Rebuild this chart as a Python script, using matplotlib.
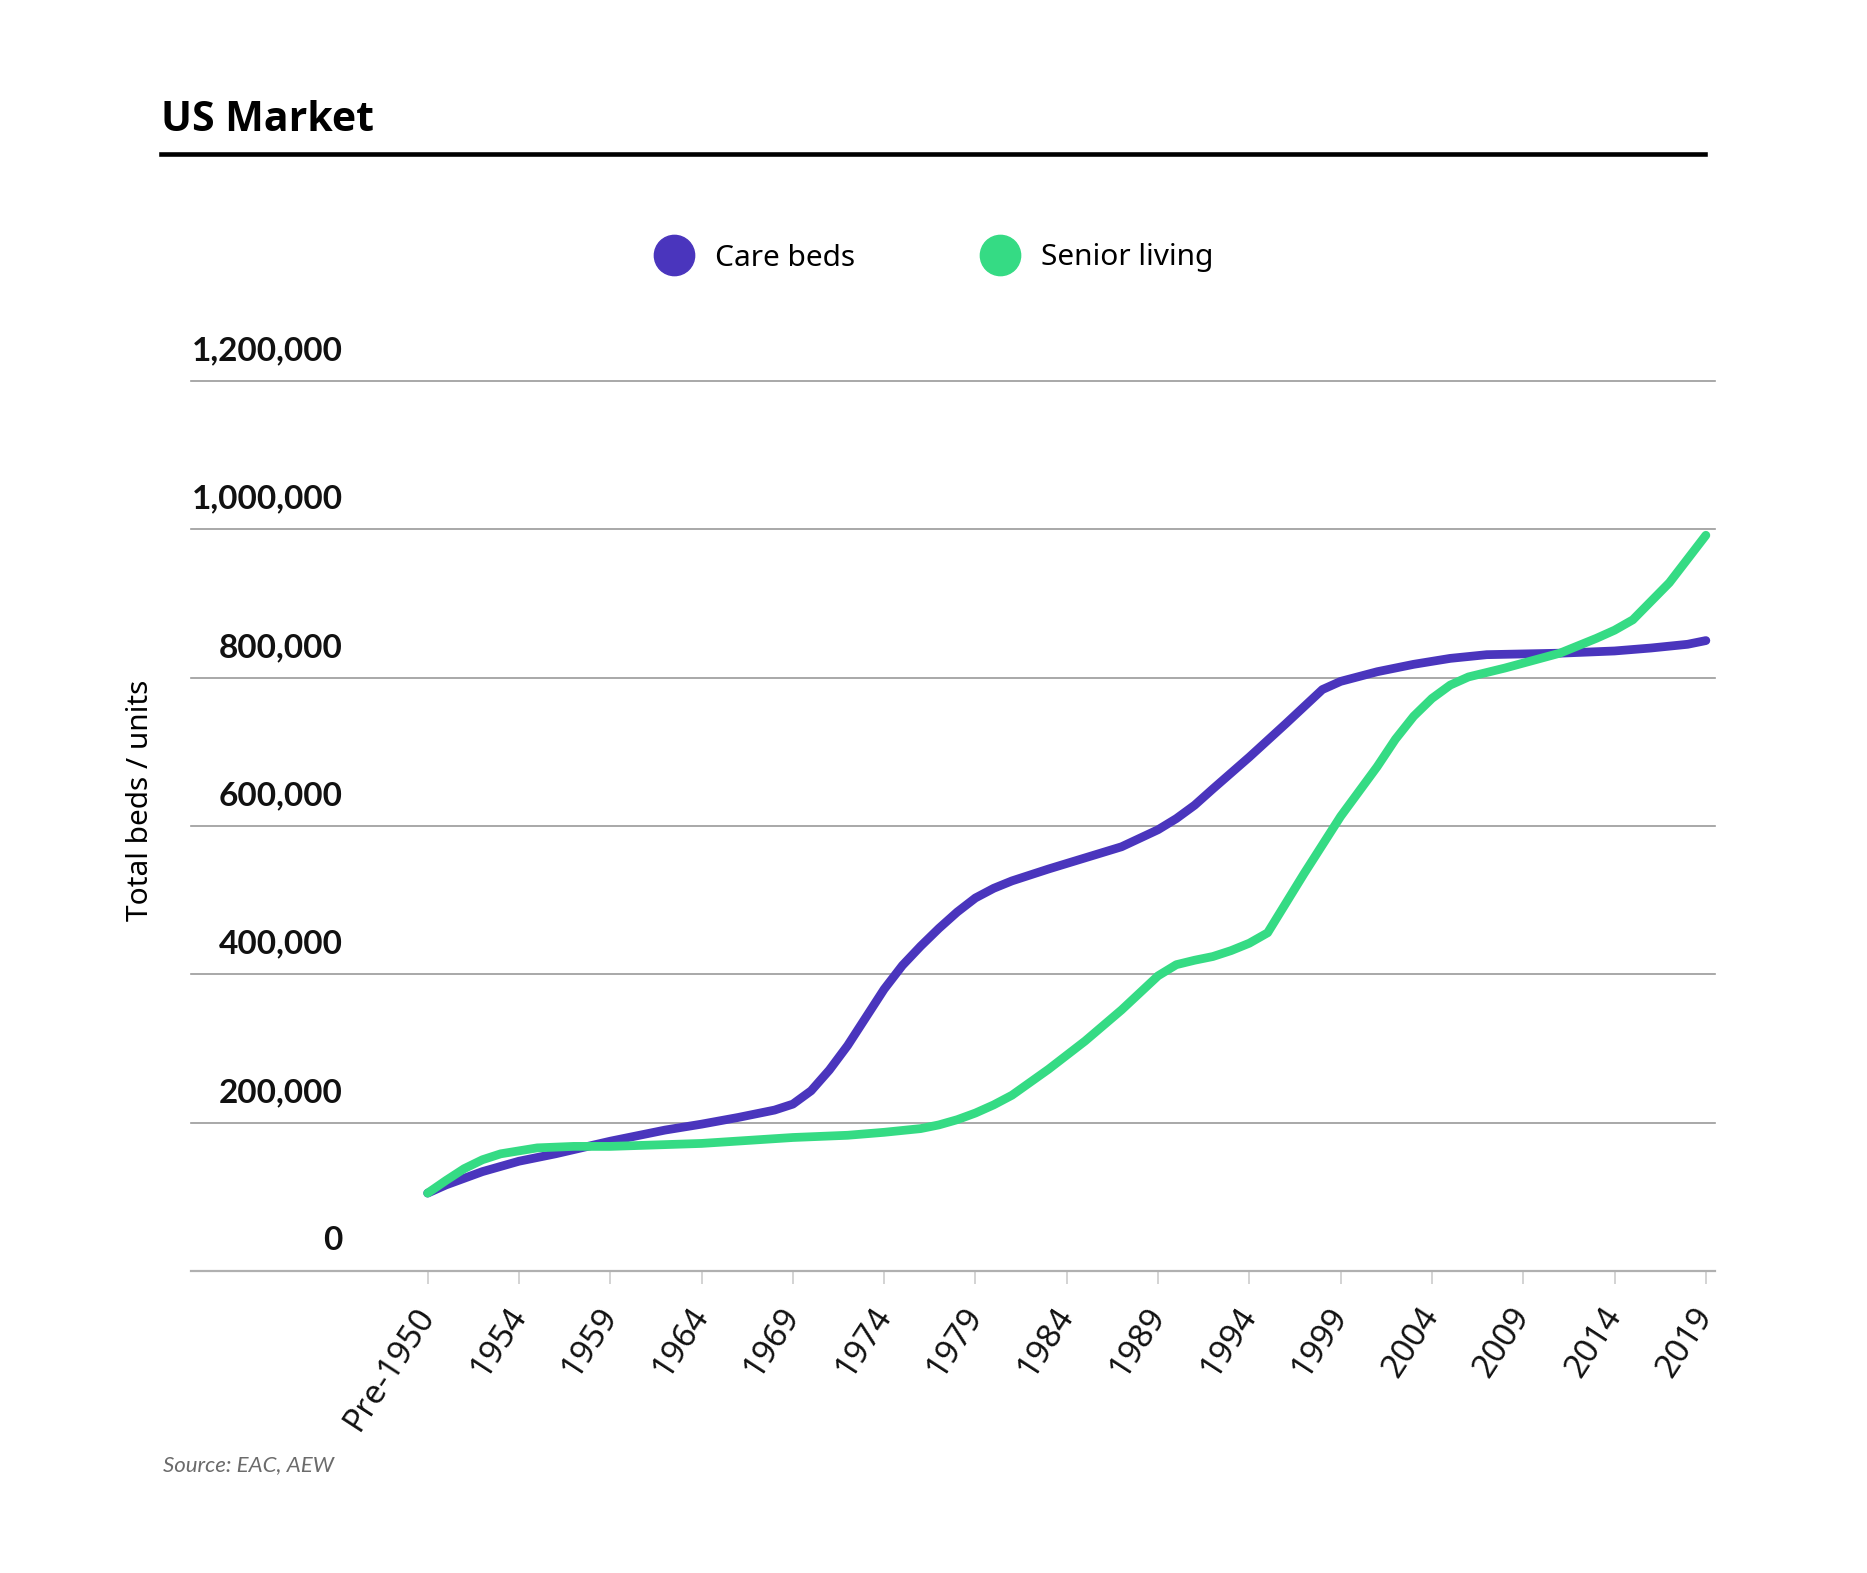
import matplotlib.pyplot as plt
from matplotlib.lines import Line2D

# data (Pre-1950 sits at 1949)
care_years = [1949, 1950, 1952, 1954, 1956, 1959, 1962, 1964, 1966, 1968, 1969, 1970,
              1971, 1972, 1973, 1974, 1975, 1976, 1977, 1978, 1979, 1980, 1981, 1983,
              1985, 1987, 1989, 1990, 1991, 1992, 1994, 1996, 1998, 1999, 2001, 2003,
              2005, 2007, 2009, 2011, 2014, 2016, 2018, 2019]
care_beds = [105000, 116000, 134000, 148000, 158000, 175000, 190000, 198000, 207000, 217000,
             225000, 243000, 271000, 304000, 342000, 380000, 412000, 438000, 462000, 484000,
             503000, 516000, 526000, 542000, 557000, 572000, 595000, 610000, 628000, 650000,
             693000, 738000, 784000, 795000, 808000, 818000, 826000, 831000, 832000, 833000,
             836000, 840000, 845000, 850000]

senior_years = [1949, 1950, 1951, 1952, 1953, 1955, 1957, 1959, 1964, 1969, 1972, 1974,
                1976, 1977, 1978, 1979, 1980, 1981, 1983, 1985, 1987, 1989, 1990, 1991,
                1992, 1993, 1994, 1995, 1997, 1999, 2001, 2002, 2003, 2004, 2005, 2006,
                2008, 2011, 2013, 2014, 2015, 2017, 2019]
senior_living = [105000, 122000, 138000, 150000, 158000, 166000, 168000, 168000, 172000,
                 180000, 183000, 187000, 192000, 197000, 204000, 213000, 224000, 237000,
                 272000, 310000, 352000, 398000, 413000, 419000, 424000, 432000, 442000,
                 456000, 536000, 613000, 680000, 717000, 748000, 772000, 790000, 801000,
                 813000, 833000, 853000, 864000, 878000, 928000, 992000]

tick_years = [1949, 1954, 1959, 1964, 1969, 1974, 1979, 1984, 1989, 1994, 1999, 2004, 2009, 2014, 2019]
tick_labels = ["Pre-1950", "1954", "1959", "1964", "1969", "1974", "1979", "1984",
               "1989", "1994", "1999", "2004", "2009", "2014", "2019"]
y_ticks = [0, 200000, 400000, 600000, 800000, 1000000, 1200000]
y_labels = ["0", "200,000", "400,000", "600,000", "800,000", "1,000,000", "1,200,000"]

purple = "#4a35bd"
green = "#35db84"
W, H = 1867, 1573

plt.rcParams["font.family"] = ["Noto Sans", "DejaVu Sans"]

fig = plt.figure(figsize=(W / 100, H / 100), dpi=100)
ax = fig.add_axes([191 / W, 1 - 1271 / H, (1715 - 191) / W, (1271 - 381) / H])

ax.plot(care_years, care_beds, color=purple, lw=6.3, solid_capstyle="round",
        solid_joinstyle="round", zorder=3, label="Care beds")
ax.plot(senior_years, senior_living, color=green, lw=6.3, solid_capstyle="round",
        solid_joinstyle="round", zorder=4, label="Senior living")

ax.set_xlim(1936.04, 2019.5)
ax.set_ylim(0, 1200000)

for s in ["top", "right", "left"]:
    ax.spines[s].set_visible(False)
ax.spines["bottom"].set_color("#b0b0b0")
ax.spines["bottom"].set_linewidth(1.6)

for v in y_ticks[1:]:
    ax.axhline(v, color="#9a9a9a", lw=1.2, zorder=1, clip_on=False)

ax.set_yticks([])
for v, lab in zip(y_ticks, y_labels):
    ax.annotate(lab, xy=(0.0995, v), xycoords=("axes fraction", "data"),
                xytext=(0, 15), textcoords="offset points", ha="right", va="baseline",
                fontsize=24, fontweight="bold", family=["Lato", "DejaVu Sans"], color="#111111")

ax.set_xticks(tick_years)
ax.set_xticklabels(tick_labels, rotation=57, ha="right", va="center",
                   rotation_mode="anchor", fontsize=24, color="#111111")
ax.tick_params(axis="x", length=9.5, width=1.1, color="#c8c8c8", pad=19)

# legend
handles = [Line2D([], [], marker="o", ls="none", markersize=29, color=purple),
           Line2D([], [], marker="o", ls="none", markersize=29, color=green)]
fig.legend(handles, ["Care beds", "Senior living"], loc="center",
           bbox_to_anchor=(934 / W, 1 - 258 / H), ncol=2, frameon=False,
           fontsize=21.5, handlelength=1.33, handletextpad=0.7, columnspacing=4.2)

# title and rule
fig.text(161 / W, 1 - 131 / H, "US Market", fontsize=29.5, fontweight="bold",
         family=["Open Sans", "DejaVu Sans"], va="baseline", ha="left")
fig.add_artist(Line2D([161 / W, 1705 / W], [1 - 154 / H, 1 - 154 / H],
                      color="black", lw=3.3, transform=fig.transFigure))

fig.text(140 / W, 1 - 800 / H, "Total beds / units", rotation=90, fontsize=21.5,
         ha="center", va="center")
fig.text(163 / W, 1 - 1465 / H, "Source: EAC, AEW", fontsize=16, style="italic",
         color="#6b6b6b", family=["Lato", "DejaVu Sans"], ha="left", va="center")

fig.savefig("out.png", dpi=100)
